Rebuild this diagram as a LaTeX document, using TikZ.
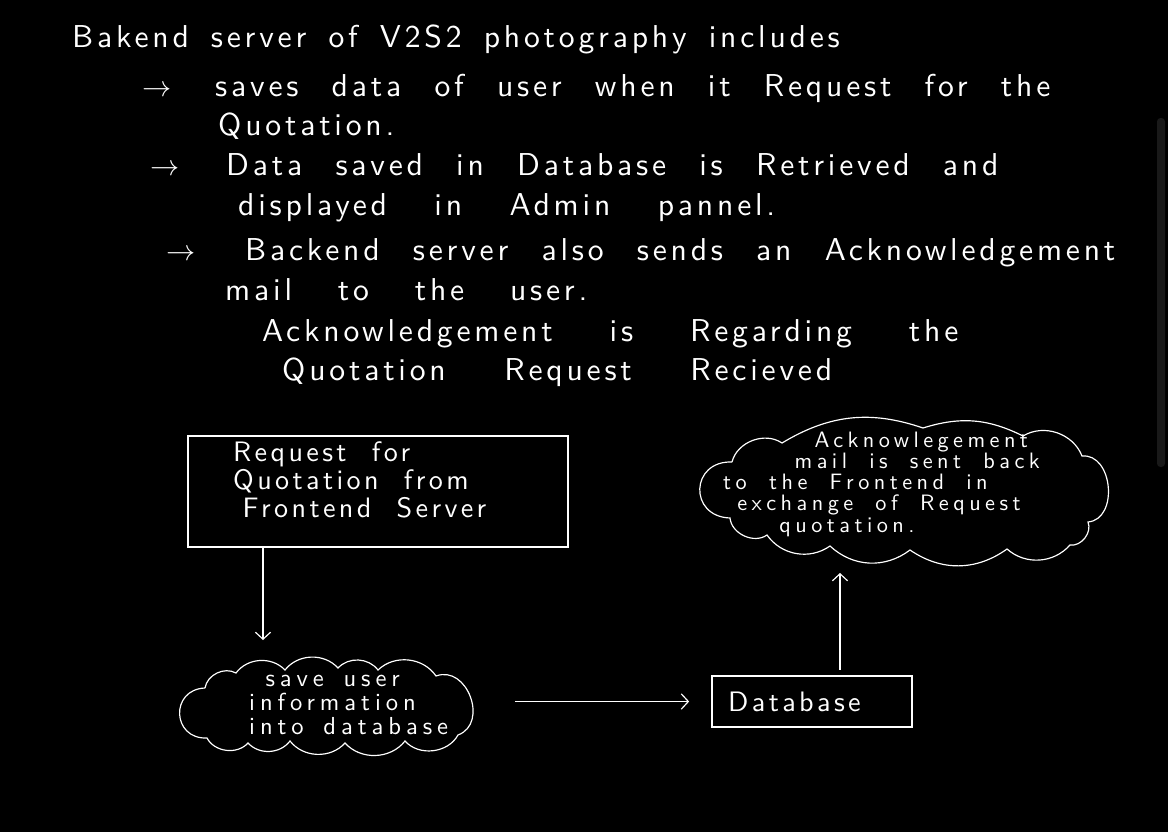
\documentclass[tikz,border=0pt]{standalone}
\usepackage{fontspec}
\usepackage{tikz}
\usetikzlibrary{positioning,arrows,arrows.meta}
\newfontfamily\notehand{lmsans10-regular.otf}[LetterSpace=12]
\newfontfamily\boxhand{lmsans10-regular.otf}[LetterSpace=12]
\newfontfamily\cloudhand{lmsans10-regular.otf}[LetterSpace=20]
\newfontfamily\ackhand{lmsans10-regular.otf}[LetterSpace=20]
\newcommand{\notefont}{\notehand\fontsize{27}{32}\selectfont}
\newcommand{\boxfont}{\boxhand\fontsize{24}{24}\selectfont\spaceskip=0.9em\relax}
\newcommand{\cloudfont}{\cloudhand\fontsize{21}{20.5}\selectfont\spaceskip=0.8em\relax}
\newcommand{\ackfont}{\ackhand\fontsize{19}{18}\selectfont\spaceskip=1em\relax}
\begin{document}
\begin{tikzpicture}[x=0.03cm,y=-0.03cm]
		\tikzset{every node/.style={text=white,inner sep=0pt},
			wline/.style={draw=white,line width=1pt},
			note/.style={anchor=base west,font={\notefont\spaceskip=#1\relax}},
			note/.default=1.05em,
			box/.style={wline,rectangle},
			flow/.style={wline,-{Straight Barb[length=6pt,width=13pt]}}}
		\fill [black] (0,0) rectangle (1168,832);
		\fill [black!90!white,rounded corners=3pt] (1157,118) rectangle (1165,467);
		\node [note=0.7em] (title) at (72,47) {Bakend server of V2S2 photography includes};
		\node [note] (arrowa) at (142,96) {$\rightarrow$};
		\node [note] (pointa) at (215,96) {saves data of user when it Request for the};
		\node [note] (pointb) at (218,135) {Quotation.};
		\node [note] (arrowb) at (150,175) {$\rightarrow$};
		\node [note] (pointc) at (226,175) {Data saved in Database is Retrieved and};
		\node [note=1.5em] (pointd) at (238,215) {displayed in Admin pannel.};
		\node [note] (arrowc) at (166,260) {$\rightarrow$};
		\node [note] (pointe) at (245,260) {Backend server also sends an Acknowledgement};
		\node [note=1.45em] (pointf) at (225,300) {mail to the user.};
		\node [note=1.8em] (pointg) at (262,341) {Acknowledgement is Regarding the};
		\node [note=1.85em] (pointh) at (282,380) {Quotation Request Recieved};
		\node [box,minimum width=11.4cm,minimum height=3.33cm] (reqbox) at (378,491.5) {};
		\node [anchor=north west,align=left,font=\boxfont] (reqtext) at (233,441) {Request for\\Quotation from\\\hspace*{8pt}Frontend Server};
		\node [minimum width=8.85cm,minimum height=2.9cm] (savecloud) at (325,708) {};
		\draw [wline] (205,688) to[bend left=55] (236,673) to[bend left=50] (285,670) to[bend left=50] (338,668) to[bend left=50] (378,670) to[bend left=50] (436,676) to[bend left=90,looseness=1.35] (458,735) to[bend left=55] (405,741) to[bend left=50] (345,743) to[bend left=50] (290,741) to[bend left=50] (248,743) to[bend left=55] (207,738) to[bend left=90,looseness=1.8] (205,688);
		\node [anchor=north west,align=left,font=\cloudfont] (savetext) at (249,675) {\hspace*{14pt}save user\\information\\into database};
		\node [box,minimum width=6cm,minimum height=1.53cm] (dbbox) at (812,701.5) {};
		\node [anchor=base west,font=\boxfont] (dbtext) at (728,711) {Database};
		\node [minimum width=12.2cm,minimum height=4.3cm] (ackcloud) at (903.5,489.5) {};
		\draw [wline] (732,462) to[bend left=55] (782,443) to[bend left=25] (923,428) to[bend left=22] (1023,436) to[bend left=50] (1082,456) to[bend left=90,looseness=1.2] (1088,522) to[bend left=60] (1070,545) to[bend left=45] (1007,549) to[bend left=35] (910,550) to[bend left=40] (830,546) to[bend left=45] (767,535) to[bend left=60] (730,518) to[bend left=90,looseness=1.9] (732,462);
		\node [anchor=north west,align=left,font=\ackfont] (acktext) at (723,432) {\hspace*{78pt}Acknowlegement\\\hspace*{61pt}mail is sent back\\to the Frontend in\\\hspace*{12pt}exchange of Request\\\hspace*{48pt}quotation.};
		\coordinate (downend) at (263,640);
		\coordinate (upend) at (840,573);
		\draw [flow] (reqbox.south -| downend) -- (downend);
		\draw [flow,shorten <=36pt,shorten >=19pt] (dbbox.west -| savecloud.east) -- (dbbox.west);
		\draw [flow,shorten <=5pt] (dbbox.north -| upend) -- (upend);
\end{tikzpicture}
\end{document}
